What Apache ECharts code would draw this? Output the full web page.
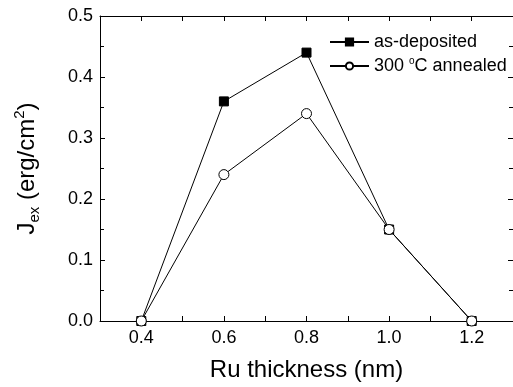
<!DOCTYPE html>
<html>
<head>
<meta charset="utf-8">
<script src="https://cdn.jsdelivr.net/npm/echarts@6/dist/echarts.min.js"></script>
<style>
  html, body { margin: 0; padding: 0; background: #fff; }
  #chart { width: 513px; height: 387px; }
</style>
</head>
<body>
<div id="chart"></div>
<script>
// Ru thickness (nm) vs exchange coupling J_ex
const thickness = [0.4, 0.6, 0.8, 1.0, 1.2];
const asDeposited = [0, 0.36, 0.44, 0.15, 0];
const annealed = [0, 0.24, 0.34, 0.15, 0];
const seriesNames = ['as-deposited', '300 °C annealed'];
const xTickLabels = [0.4, 0.6, 0.8, 1.0, 1.2];

const font = 'Liberation Sans, Arial, sans-serif';
const chart = echarts.init(document.getElementById('chart'));

const frameLine = { show: true, onZero: false, lineStyle: { color: '#000', width: 1 } };
const inTick = { show: true, inside: true, length: 5, lineStyle: { color: '#000' } };

const xBase = {
  type: 'value', min: 0.3, max: 1.3, interval: 0.1,
  axisLine: frameLine,
  axisTick: inTick,
  splitLine: { show: false },
};
const yBase = {
  type: 'value', min: 0, max: 0.5, interval: 0.1,
  axisLine: frameLine,
  axisTick: inTick,
  minorTick: { show: true, splitNumber: 2, length: 4, lineStyle: { color: '#000' } },
  splitLine: { show: false },
};

const pair = (xs, ys) => xs.map((x, i) => [x, ys[i]]);

const option = {
  animation: false,
  textStyle: { fontFamily: font },
  grid: { left: 100, top: 16, right: -1, bottom: 64 },
  legend: {
    left: 329,
    top: 33,
    padding: 0,
    orient: 'vertical',
    itemWidth: 39,
    itemHeight: 9,
    itemGap: 5,
    textStyle: {
      fontFamily: font, fontSize: 18, color: '#000',
      rich: {
        t: { fontFamily: font, fontSize: 18, color: '#000', lineHeight: 20, verticalAlign: 'middle' },
        s: { fontFamily: font, fontSize: 10, color: '#000', lineHeight: 20, verticalAlign: 'top' },
      },
    },
    formatter: (name) => name === seriesNames[1] ? '{t|300 }{s|o}{t|C annealed}' : '{t|' + name + '}',
    data: seriesNames,
  },
  xAxis: [
    {
      ...xBase,
      axisLabel: {
        color: '#000', fontSize: 18, fontFamily: font, margin: 8,
        customValues: xTickLabels,
        formatter: (v) => v.toFixed(1),
      },
      name: 'Ru thickness (nm)',
      nameLocation: 'middle',
      nameGap: 37,
      nameTextStyle: { color: '#000', fontSize: 24, fontFamily: font },
    },
    { ...xBase, position: 'top', axisLabel: { show: false } },
  ],
  yAxis: [
    {
      ...yBase,
      axisLabel: { color: '#000', fontSize: 18, fontFamily: font, margin: 7, formatter: (v) => v.toFixed(1) },
      name: '{a|J}{b|ex}{a| (erg/cm}{c|2}{a|)}',
      nameLocation: 'middle',
      nameRotate: 90,
      nameGap: 58,
      nameTextStyle: {
        color: '#000', fontFamily: font,
        rich: {
          a: { fontSize: 24, fontFamily: font, color: '#000', lineHeight: 30, verticalAlign: 'middle' },
          b: { fontSize: 15, fontFamily: font, color: '#000', lineHeight: 30, verticalAlign: 'bottom' },
          c: { fontSize: 15, fontFamily: font, color: '#000', lineHeight: 30, verticalAlign: 'top' },
        },
      },
    },
    { ...yBase, position: 'right', axisLabel: { show: false } },
  ],
  series: [
    {
      name: seriesNames[0],
      type: 'line',
      data: pair(thickness, asDeposited),
      symbol: 'rect',
      symbolSize: 9,
      showAllSymbol: true,
      lineStyle: { color: '#000', width: 1 },
      itemStyle: { color: '#000', borderColor: '#000', borderWidth: 1 },
    },
    {
      name: seriesNames[1],
      type: 'line',
      data: pair(thickness, annealed),
      symbol: 'circle',
      symbolSize: 10,
      showAllSymbol: true,
      lineStyle: { color: '#000', width: 1 },
      itemStyle: { color: '#fff', borderColor: '#000', borderWidth: 1 },
    },
  ],
};

chart.setOption(option);
</script>
</body>
</html>
